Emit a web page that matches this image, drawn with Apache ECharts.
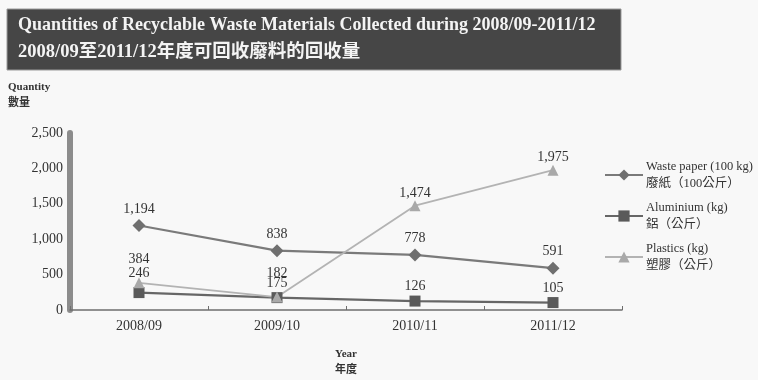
<!DOCTYPE html>
<html>
<head>
<meta charset="utf-8">
<script src="https://cdn.jsdelivr.net/npm/echarts@6/dist/echarts.min.js"></script>
<style>
  html, body { margin: 0; padding: 0; background: #f8f8f8; }
  #chart { width: 758px; height: 380px; }
</style>
</head>
<body>
<div id="chart"></div>
<script>
// Collection years
const years = ['2008/09', '2009/10', '2010/11', '2011/12'];

// Quantities collected per year
const wastePaper = [1194, 838, 778, 591];   // 100 kg
const aluminium = [246, 175, 126, 105];     // kg
const plastics = [384, 182, 1474, 1975];    // kg

// Series names (English / Chinese)
const seriesNames = ['Waste paper (100 kg)', 'Aluminium (kg)', 'Plastics (kg)'];
const seriesNamesZh = ['廢紙（100公斤）', '鋁（公斤）', '塑膠（公斤）'];

// Value axis ticks
const yTicks = [0, 500, 1000, 1500, 2000, 2500];

const titleEn = 'Quantities of Recyclable Waste Materials Collected during 2008/09-2011/12';
const titleZh = '2008/09至2011/12年度可回收廢料的回收量';

const SERIF = '"Liberation Serif", "Noto Sans CJK TC", serif';
const TEXT = '#333333';

const fmt = v => v.toLocaleString('en-US');

// Extra upward nudges for labels that crowd each other at the low end
function withLabelNudges(values, nudges) {
  return values.map((v, i) => nudges[i]
    ? { value: v, label: { offset: [0, nudges[i]] } }
    : v);
}

function lineSeries(name, values, symbol, size, color, lineColor, lineWidth, dist, nudges) {
  return {
    name: name,
    type: 'line',
    data: withLabelNudges(values, nudges || {}),
    symbol: symbol,
    symbolSize: size,
    itemStyle: { color: color },
    lineStyle: { color: lineColor, width: lineWidth },
    label: {
      show: true,
      position: 'top',
      distance: dist,
      formatter: p => fmt(p.value),
      fontFamily: SERIF,
      fontSize: 14,
      color: TEXT
    },
    emphasis: { disabled: true },
    animation: false
  };
}

const chart = echarts.init(document.getElementById('chart'), null, { renderer: 'canvas' });

const nameLookup = {};
seriesNames.forEach((n, i) => { nameLookup[n] = seriesNamesZh[i]; });

chart.setOption({
  backgroundColor: '#f8f8f8',
  animation: false,
  graphic: [
    {
      type: 'rect',
      shape: { x: 7, y: 9, width: 614, height: 61 },
      style: { fill: '#464646', stroke: '#9a9a9a', lineWidth: 1 },
      z: 0
    },
    {
      type: 'text',
      left: 8,
      top: 79,
      style: {
        text: 'Quantity\n數量',
        fontFamily: SERIF,
        fontSize: 11,
        fontWeight: 'bold',
        lineHeight: 16,
        fill: TEXT
      }
    }
  ],
  title: {
    text: '{en|' + titleEn + '}\n{zh|' + titleZh + '}',
    left: 18,
    top: 12,
    padding: 0,
    textStyle: {
      rich: {
        en: {
          fontFamily: SERIF,
          fontSize: 18,
          fontWeight: 'bold',
          color: '#f4f4f4',
          lineHeight: 27
        },
        zh: {
          fontFamily: SERIF,
          fontSize: 18.5,
          fontWeight: 'bold',
          color: '#f4f4f4',
          lineHeight: 27
        }
      }
    },
    z: 5
  },
  legend: {
    orient: 'vertical',
    left: 599,
    top: 153,
    itemWidth: 38,
    itemHeight: 14,
    itemGap: 7,
    data: seriesNames,
    formatter: n => n + '\n' + nameLookup[n],
    textStyle: {
      fontFamily: SERIF,
      fontSize: 12.5,
      lineHeight: 17,
      color: TEXT,
      padding: [0, 0, 0, -2]
    },
    selectedMode: false
  },
  grid: { left: 70, right: 136, top: 133, bottom: 70, containLabel: false },
  xAxis: {
    type: 'category',
    data: years,
    boundaryGap: true,
    name: 'Year\n年度',
    nameLocation: 'middle',
    nameGap: 36,
    nameTextStyle: {
      fontFamily: SERIF,
      fontSize: 11,
      fontWeight: 'bold',
      lineHeight: 16,
      color: TEXT
    },
    axisLine: { lineStyle: { color: '#6e6e6e', width: 1.5 } },
    axisTick: { show: true, inside: true, length: 4, lineStyle: { color: '#6e6e6e' } },
    axisLabel: { fontFamily: SERIF, fontSize: 14, color: TEXT, margin: 9 },
    splitLine: { show: false }
  },
  yAxis: {
    type: 'value',
    min: yTicks[0],
    max: yTicks[yTicks.length - 1],
    interval: yTicks[1] - yTicks[0],
    axisLine: { show: true, lineStyle: { color: '#8c8c8c', width: 6 } },
    axisTick: { show: false },
    splitLine: { show: false },
    axisLabel: {
      fontFamily: SERIF,
      fontSize: 14,
      color: TEXT,
      margin: 7,
      formatter: v => fmt(v)
    }
  },
  series: [
    lineSeries(seriesNames[0], wastePaper, 'diamond', 13, '#6f6f6f', '#7a7a7a', 2.2, 3),
    lineSeries(seriesNames[1], aluminium, 'rect', 11, '#5a5a5a', '#666666', 2.2, 2, { 0: -5 }),
    lineSeries(seriesNames[2], plastics, 'triangle', 11, '#a9a9a9', '#b3b3b3', 1.8, 0, { 0: -11, 1: -11 })
  ]
});
</script>
</body>
</html>
